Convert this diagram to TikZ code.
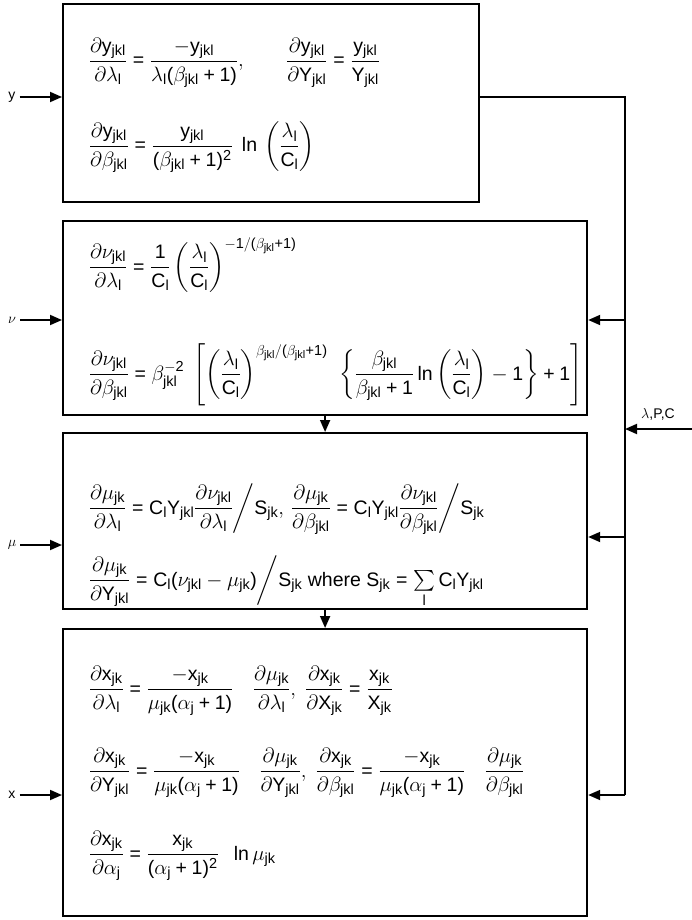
\documentclass[tikz,border=0pt]{standalone}
\usepackage{amsmath}
\usepackage[no-math]{fontspec}
\setsansfont{Liberation Sans}
\newfontfamily\hvsans{Liberation Sans}[NFSSFamily=hvsans]
\usetikzlibrary{arrows.meta,positioning,calc}
% sans letters and digits in math
\DeclareSymbolFont{sfletters}{TU}{hvsans}{m}{n}
\SetSymbolFont{operators}{normal}{TU}{hvsans}{m}{n}
\DeclareMathSymbol{y}{\mathalpha}{sfletters}{`y}
\DeclareMathSymbol{Y}{\mathalpha}{sfletters}{`Y}
\DeclareMathSymbol{x}{\mathalpha}{sfletters}{`x}
\DeclareMathSymbol{X}{\mathalpha}{sfletters}{`X}
\DeclareMathSymbol{C}{\mathalpha}{sfletters}{`C}
\DeclareMathSymbol{S}{\mathalpha}{sfletters}{`S}
\DeclareMathSymbol{P}{\mathalpha}{sfletters}{`P}
\DeclareMathSymbol{j}{\mathalpha}{sfletters}{`j}
\DeclareMathSymbol{k}{\mathalpha}{sfletters}{`k}
\DeclareMathSymbol{l}{\mathalpha}{sfletters}{`l}
\DeclareMathSizes{19.5}{19.5}{14.5}{11}

\begin{document}
\begin{tikzpicture}[x=1pt,y=-1pt,font=\fontsize{19.5}{23}\selectfont\sffamily,line width=1.8pt]
\tikzset{stage/.style={draw,line width=2.2pt,anchor=north west,inner sep=0pt},
  eqn/.style={anchor=base west,inner sep=0pt},
  feed/.style={-{Triangle[length=12pt,width=10pt]}},
  inlbl/.style={font=\fontsize{14}{16}\selectfont\sffamily}}
\useasboundingbox (0,0) rectangle (692,920);
% the four stages
\node[stage,minimum width=416pt,minimum height=198pt] (yb) at (62,3) {};
\node[stage,minimum width=524pt,minimum height=194pt] (nub) at (62,220) {};
\node[stage,minimum width=524pt,minimum height=176pt] (mub) at (62,432) {};
\node[stage,minimum width=524pt,minimum height=287pt] (xb) at (62,628) {};
% y
\node[eqn] (y1) at (88,67) {$\displaystyle\frac{\partial y_{jkl}}{\partial\lambda_l}=\frac{-y_{jkl}}{\lambda_l(\beta_{jkl}+1)},\qquad\frac{\partial y_{jkl}}{\partial Y_{jkl}}=\frac{y_{jkl}}{Y_{jkl}}$};
\node[eqn] (y2) at (88,152) {$\displaystyle\frac{\partial y_{jkl}}{\partial\beta_{jkl}}=\frac{y_{jkl}}{(\beta_{jkl}+1)^2}\;\ln\,\left(\frac{\lambda_l}{C_l}\right)$};
% nu
\node[eqn] (nu1) at (88,273) {$\displaystyle\frac{\partial\nu_{jkl}}{\partial\lambda_l}=\frac{1}{C_l}\left(\frac{\lambda_l}{C_l}\right)^{-1/(\beta_{jkl}+1)}$};
\node[eqn] (nu2) at (88,380) {$\displaystyle\frac{\partial\nu_{jkl}}{\partial\beta_{jkl}}=\beta_{jkl}^{-2}\;\left[\left(\frac{\lambda_l}{C_l}\right)^{\beta_{jkl}/(\beta_{jkl}+1)}\hspace{8pt}\left\{\frac{\beta_{jkl}}{\beta_{jkl}+1}\ln\left(\frac{\lambda_l}{C_l}\right)-1\right\}+1\right]$};
% mu
\node[eqn] (mu1) at (88,514) {$\displaystyle\frac{\partial\mu_{jk}}{\partial\lambda_l}=C_lY_{jkl}\frac{\partial\nu_{jkl}}{\partial\lambda_l}\bigg/S_{jk},\,\frac{\partial\mu_{jk}}{\partial\beta_{jkl}}=C_lY_{jkl}\frac{\partial\nu_{jkl}}{\partial\beta_{jkl}}\bigg/S_{jk}$};
\node[eqn] (mu2) at (88,586) {$\displaystyle\frac{\partial\mu_{jk}}{\partial Y_{jkl}}=C_l(\nu_{jkl}-\mu_{jk})\bigg/S_{jk}\text{ where }S_{jk}=\mathop{\textstyle\sum}\limits_l C_lY_{jkl}$};
% x
\node[eqn] (x1) at (88,695) {$\displaystyle\frac{\partial x_{jk}}{\partial\lambda_l}=\frac{-x_{jk}}{\mu_{jk}(\alpha_j+1)}\quad\frac{\partial\mu_{jk}}{\partial\lambda_l},\;\frac{\partial x_{jk}}{\partial X_{jk}}=\frac{x_{jk}}{X_{jk}}$};
\node[eqn] (x2) at (88,777) {$\displaystyle\frac{\partial x_{jk}}{\partial Y_{jkl}}=\frac{-x_{jk}}{\mu_{jk}(\alpha_j+1)}\quad\frac{\partial\mu_{jk}}{\partial Y_{jkl}},\;\frac{\partial x_{jk}}{\partial\beta_{jkl}}=\frac{-x_{jk}}{\mu_{jk}(\alpha_j+1)}\quad\frac{\partial\mu_{jk}}{\partial\beta_{jkl}}$};
\node[eqn] (x3) at (88,860) {$\displaystyle\frac{\partial x_{jk}}{\partial\alpha_j}=\frac{x_{jk}}{(\alpha_j+1)^2}\;\;\ln\mu_{jk}$};
% inputs on the left
\node[inlbl] (yin) at (12,97) {y};
\node[inlbl] (nuin) at (12,320) {$\nu$};
\node[inlbl] (muin) at (12,545) {$\mu$};
\node[inlbl] (xin) at (12,795) {x};
\draw[feed] (yin) -- (yin -| yb.west);
\draw[feed] (nuin) -- (nuin -| nub.west);
\draw[feed] (muin) -- (muin -| mub.west);
\draw[feed] (xin) -- (xin -| xb.west);
% stage to stage
\draw[feed] (nub.south) -- (mub.north);
\draw[feed] (mub.south) -- (xb.north);
% bus on the right
\coordinate (bt) at (625,97);
\coordinate (nur) at (625,320);
\coordinate (mur) at (625,537);
\coordinate (xr) at (625,795);
\coordinate (lpcin) at (692,429);
\draw (yb.east |- bt) -- (bt) -- (xr);
\draw[feed] (nur) -- (nur -| nub.east);
\draw[feed] (mur) -- (mur -| mub.east);
\draw[feed] (xr) -- (xr -| xb.east);
\draw[feed] (lpcin) -- (lpcin -| bt);
\node[inlbl,anchor=south] (lpc) at (658,425) {$\lambda$,P,C};
\end{tikzpicture}
\end{document}
